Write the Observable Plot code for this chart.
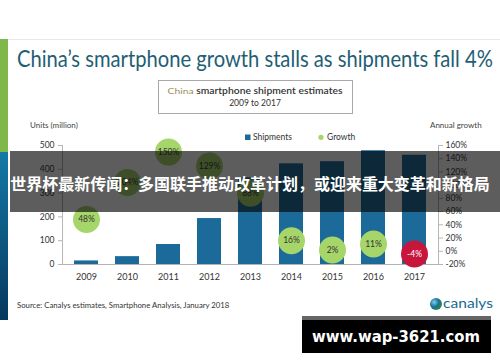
<!DOCTYPE html>
<html><head><meta charset="utf-8">
<script src="https://cdn.jsdelivr.net/npm/d3@7"></script>
<script src="https://cdn.jsdelivr.net/npm/@observablehq/plot@0.6"></script>
<style>
body{margin:0;background:#fff;}
#wrap{position:relative;width:500px;height:362px;overflow:hidden;}
#wrap svg{position:absolute;left:0;top:0;}
</style></head><body><div id="wrap"></div>
<script>
const years = ["2009","2010","2011","2012","2013","2014","2015","2016","2017"];
const shipments = [15, 33, 84, 193, 364, 423, 432, 478, 459];
const growth = [48, 104, 150, 129, 88, 16, 2, 11, -4];
const growthLabels = ["48%","104%","150%","129%","88%","16%","2%","11%","-4%"];
const unitTicks = [0, 100, 200, 300, 400, 500];
const growthTicks = [-20, 0, 20, 40, 60, 80, 100, 120, 140, 160];

const FONT = "Lato, 'Open Sans', sans-serif";
const barColor = "#1b6a99";
const green = "#a6d56a";
const red = "#c8153c";
// right axis (-20%..160%) shares the left axis span (0..500)
const toY = g => (g + 20) * 500 / 180;
const fromY = v => Math.round(v * 180 / 500 - 20);

const data = years.map((y, i) => ({year: y, units: shipments[i], growth: growth[i], label: growthLabels[i]}));

const chart = Plot.plot({
  width: 500, height: 362,
  marginTop: 145, marginBottom: 98, marginLeft: 62, marginRight: 62,
  style: {fontFamily: FONT, fontSize: "8.5px", color: "#333", background: "white"},
  x: {domain: years, paddingInner: 0.42, paddingOuter: 0.21, label: null},
  y: {domain: [0, 500], label: null},
  color: {type: "identity"},
  marks: [
    Plot.barY(data, {x: "year", y: "units", fill: barColor}),
    Plot.ruleY([0], {stroke: "#b5b5b5"}),
    Plot.frame({anchor: "left", stroke: "#b5b5b5"}),
    Plot.frame({anchor: "right", stroke: "#b5b5b5"}),
    Plot.axisX({tickSize: 0, tickPadding: 9, fontSize: 9, label: null}),
    Plot.axisY({ticks: unitTicks, tickSize: 4, tickPadding: 4, stroke: "#b5b5b5", label: null}),
    Plot.axisY({anchor: "right", ticks: growthTicks.map(toY), tickFormat: v => fromY(v) + "%", tickSize: 4, tickPadding: 3, stroke: "#b5b5b5", label: null}),
    Plot.dot(data, {x: "year", y: d => toY(d.growth), r: 13.5, fill: d => d.growth < 0 ? red : green}),
    Plot.text(data, {x: "year", y: d => toY(d.growth), text: "label", fill: d => d.growth < 0 ? "#fff" : "#333", fontSize: 8.5})
  ]
});
const wrap = document.getElementById("wrap");
wrap.appendChild(chart);

// decoration layer
const svg = d3.select(wrap).append("svg").attr("width", 500).attr("height", 362)
  .style("font-family", FONT);
const defs = svg.append("defs");
const lg = defs.append("linearGradient").attr("id", "stripe").attr("x1", 0).attr("x2", 0).attr("y1", 0).attr("y2", 1);
lg.append("stop").attr("offset", "0%").attr("stop-color", "#137aa6");
lg.append("stop").attr("offset", "100%").attr("stop-color", "#07375d");
const rg = defs.append("radialGradient").attr("id", "globe").attr("cx", "35%").attr("cy", "35%").attr("r", "70%");
rg.append("stop").attr("offset", "0%").attr("stop-color", "#7fd0e8");
rg.append("stop").attr("offset", "55%").attr("stop-color", "#1a6f9c");
rg.append("stop").attr("offset", "100%").attr("stop-color", "#2f8a3a");

// text fitted to a target width by horizontal scaling
function fitText(x, y, width, anchor, build) {
  const g = svg.append("g");
  const t = g.append("text").attr("text-anchor", anchor);
  build(t);
  const w = t.node().getComputedTextLength();
  const sx = w > 0 ? width / w : 1;
  g.attr("transform", `translate(${x},${y}) scale(${sx},1)`);
  return t;
}

svg.append("line").attr("x1", 0).attr("x2", 500).attr("y1", 39.5).attr("y2", 39.5).attr("stroke", "#e8e8e8");
svg.append("rect").attr("x", 0).attr("y", 39).attr("width", 8).attr("height", 113).attr("fill", "#7fb84a");
svg.append("rect").attr("x", 0).attr("y", 152).attr("width", 8).attr("height", 168).attr("fill", "url(#stripe)");

fitText(17, 66.5, 476, "start", t => t.attr("font-size", 23).attr("fill", "#1f5e74")
  .text("China’s smartphone growth stalls as shipments fall 4%"));

svg.append("rect").attr("x", 158.5).attr("y", 80.5).attr("width", 194).attr("height", 33)
  .attr("fill", "#fff").attr("stroke", "#a8a8a8");
fitText(255, 94, 175, "middle", t => {
  t.attr("font-size", 8.5).attr("font-weight", 600);
  t.append("tspan").attr("fill", "#9a8d62").attr("font-weight", 400).text("China");
  t.append("tspan").attr("fill", "#333").text(" smartphone shipment estimates");
});
svg.append("text").attr("x", 255).attr("y", 106).attr("text-anchor", "middle").attr("font-size", 8.5)
  .attr("fill", "#333").text("2009 to 2017");

svg.append("text").attr("x", 30).attr("y", 127.5).attr("font-size", 8).attr("fill", "#444").text("Units (million)");
svg.append("text").attr("x", 430).attr("y", 127.5).attr("font-size", 8).attr("fill", "#444").text("Annual growth");

svg.append("rect").attr("x", 245).attr("y", 134.5).attr("width", 5.5).attr("height", 5.5).attr("fill", barColor);
svg.append("text").attr("x", 253).attr("y", 140).attr("font-size", 8.5).attr("fill", "#333").text("Shipments");
svg.append("circle").attr("cx", 321).attr("cy", 137.3).attr("r", 2.6).attr("fill", green);
svg.append("text").attr("x", 327).attr("y", 140).attr("font-size", 8.5).attr("fill", "#333").text("Growth");

fitText(17, 308, 213, "start", t => t.attr("font-size", 7).attr("fill", "#333")
  .text("Source: Canalys estimates, Smartphone Analysis, January 2018"));
svg.append("circle").attr("cx", 436).attr("cy", 304).attr("r", 6).attr("fill", "url(#globe)");
fitText(443, 307.5, 50, "start", t => t.attr("font-size", 14).attr("fill", "#1b6a90").text("canalys"));

// overlay banner
svg.append("rect").attr("x", 10).attr("y", 151).attr("width", 490).attr("height", 61).attr("fill", "rgba(6,6,6,0.65)");
fitText(250, 190, 480, "middle", t => t
  .attr("font-family", "'Noto Sans CJK SC', sans-serif").attr("font-weight", 700).attr("font-size", 16)
  .attr("fill", "#fff").text("世界杯最新传闻：多国联手推动改革计划，或迎来重大变革和新格局"));

// watermark
svg.append("rect").attr("x", 302).attr("y", 316).attr("width", 189).attr("height", 37).attr("fill", "#000");
svg.append("rect").attr("x", 302).attr("y", 316).attr("width", 189).attr("height", 4).attr("fill", "#666");
fitText(396, 341.5, 168, "middle", t => t
  .attr("font-family", "'DejaVu Sans', sans-serif").attr("font-weight", 700).attr("font-size", 16)
  .attr("fill", "#fff").text("www.wap-3621.com"));
</script></body></html>
